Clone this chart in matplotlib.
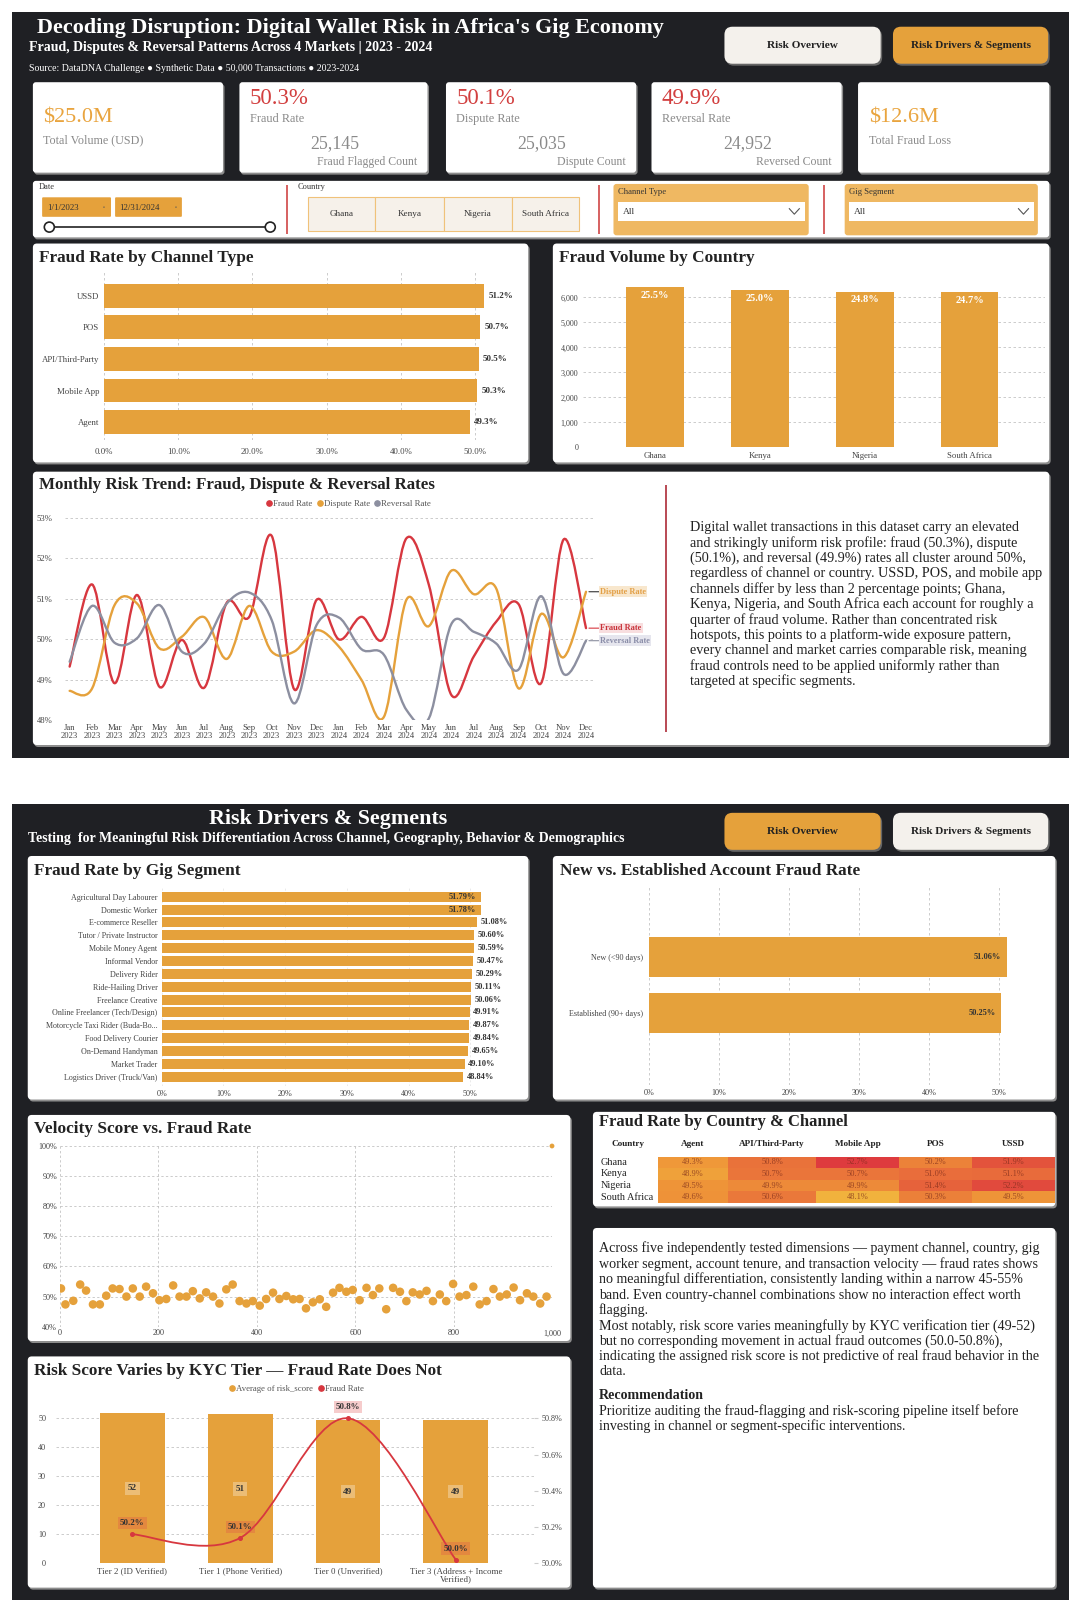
import numpy as np
import matplotlib
matplotlib.use("Agg")
import matplotlib.pyplot as plt
from matplotlib.patches import FancyBboxPatch, Rectangle, Circle, PathPatch
from matplotlib.path import Path
from matplotlib.lines import Line2D
from matplotlib.colors import LinearSegmentedColormap, Normalize

plt.rcParams['font.family'] = ['Liberation Serif', 'DejaVu Serif']

# ---------------- DATA ----------------
kpi_volume = "$25.0M"
kpi_fraud_loss = "$12.6M"
kpi_rates = ["50.3%", "50.1%", "49.9%"]
kpi_rate_names = ["Fraud Rate", "Dispute Rate", "Reversal Rate"]
kpi_counts = ["25,145", "25,035", "24,952"]
kpi_count_names = ["Fraud Flagged Count", "Dispute Count", "Reversed Count"]

channels = ["USSD", "POS", "API/Third-Party", "Mobile App", "Agent"]
channel_fraud_rate = [51.2, 50.7, 50.5, 50.3, 49.3]

countries = ["Ghana", "Kenya", "Nigeria", "South Africa"]
country_fraud_count = [6412, 6286, 6236, 6211]
country_fraud_share = [25.5, 25.0, 24.8, 24.7]

month_names = ["Jan", "Feb", "Mar", "Apr", "May", "Jun", "Jul", "Aug", "Sep", "Oct", "Nov", "Dec"]
years = [2023, 2024]
fraud_rate_monthly = [49.32, 51.35, 48.91, 51.09, 48.82, 49.98, 48.80, 50.90, 50.55, 52.55, 48.76, 50.97,
                      49.99, 50.55, 50.03, 52.49, 51.34, 48.62, 49.57, 50.43, 50.86, 48.91, 52.46, 50.27]
dispute_rate_monthly = [48.72, 48.78, 50.84, 50.88, 49.77, 50.06, 50.54, 49.51, 50.82, 49.69, 49.69, 50.22,
                        49.81, 48.99, 48.08, 50.97, 50.32, 51.69, 51.11, 51.25, 48.78, 50.62, 49.55, 51.17]
reversal_rate_monthly = [49.44, 50.82, 49.91, 50.02, 50.84, 49.69, 49.89, 50.88, 51.15, 50.47, 48.41, 50.35,
                         50.53, 49.75, 49.61, 48.25, 48.04, 50.37, 50.18, 49.89, 49.25, 51.06, 49.14, 49.96]

gig_segments = ["Agricultural Day Labourer", "Domestic Worker", "E-commerce Reseller",
                "Tutor / Private Instructor", "Mobile Money Agent", "Informal Vendor", "Delivery Rider",
                "Ride-Hailing Driver", "Freelance Creative", "Online Freelancer (Tech/Design)",
                "Motorcycle Taxi Rider (Buda-Bo...", "Food Delivery Courier", "On-Demand Handyman",
                "Market Trader", "Logistics Driver (Truck/Van)"]
gig_fraud_rate = [51.79, 51.78, 51.08, 50.60, 50.59, 50.47, 50.29, 50.11, 50.06, 49.91, 49.87, 49.84,
                  49.65, 49.10, 48.84]

tenure_groups = ["New (<90 days)", "Established (90+ days)"]
tenure_fraud_rate = [51.06, 50.25]

velocity_score = [2, 11, 27, 41, 53, 67, 81, 94, 107, 121, 135, 148, 162, 175, 189, 202, 216, 230, 243,
                  257, 270, 284, 297, 311, 324, 338, 351, 365, 379, 392, 406, 419, 433, 446, 460, 474,
                  487, 500, 514, 528, 541, 555, 568, 582, 595, 609, 623, 636, 649, 663, 677, 691, 704,
                  717, 731, 745, 758, 772, 785, 799, 812, 826, 840, 853, 867, 881, 894, 908, 922, 935,
                  949, 962, 976, 989]
velocity_fraud_rate = [52.7, 47.4, 48.6, 54.0, 52.0, 47.4, 47.4, 50.3, 52.7, 52.5, 50.0, 52.7, 50.0, 53.3,
                       51.1, 48.8, 49.2, 53.7, 50.0, 50.0, 51.8, 49.4, 51.4, 50.0, 47.7, 52.4, 54.0, 48.5,
                       47.7, 48.5, 47.0, 49.2, 51.3, 49.2, 50.2, 49.1, 49.2, 46.1, 48.1, 49.1, 46.6, 51.3,
                       52.9, 51.6, 52.2, 48.8, 52.9, 50.5, 52.7, 45.8, 52.9, 51.6, 48.5, 51.4, 50.7, 51.9,
                       48.5, 50.7, 48.5, 54.2, 50.0, 50.5, 53.3, 47.4, 48.5, 52.5, 50.0, 50.7, 53.0, 48.8,
                       51.1, 50.0, 47.7, 50.0]
velocity_outlier_score = [1000]
velocity_outlier_rate = [100.0]

heat_channels = ["Agent", "API/Third-Party", "Mobile App", "POS", "USSD"]
heat_values = [[49.3, 50.8, 52.7, 50.2, 51.9],
               [48.9, 50.7, 50.7, 51.0, 51.1],
               [49.5, 49.9, 49.9, 51.4, 52.2],
               [49.6, 50.6, 48.1, 50.3, 49.5]]

kyc_tiers = ["Tier 2 (ID Verified)", "Tier 1 (Phone Verified)", "Tier 0 (Unverified)",
             "Tier 3 (Address + Income\nVerified)"]
kyc_risk_score = [51.7, 51.4, 49.4, 49.4]
kyc_fraud_rate = [50.16, 50.14, 50.80, 50.02]

trend_lines = ["Digital wallet transactions in this dataset carry an elevated",
               "and strikingly uniform risk profile: fraud (50.3%), dispute",
               "(50.1%), and reversal (49.9%) rates all cluster around 50%,",
               "regardless of channel or country. USSD, POS, and mobile app",
               "channels differ by less than 2 percentage points; Ghana,",
               "Kenya, Nigeria, and South Africa each account for roughly a",
               "quarter of fraud volume. Rather than concentrated risk",
               "hotspots, this points to a platform-wide exposure pattern,",
               "every channel and market carries comparable risk, meaning",
               "fraud controls need to be applied uniformly rather than",
               "targeted at specific segments."]
summary_lines = ["Across five independently tested dimensions \u2014 payment channel, country, gig",
                 "worker segment, account tenure, and transaction velocity \u2014 fraud rates shows",
                 "no meaningful differentiation, consistently landing within a narrow 45-55%",
                 "band. Even country-channel combinations show no interaction effect worth",
                 "flagging.",
                 "Most notably, risk score varies meaningfully by KYC verification tier (49-52)",
                 "but no corresponding movement in actual fraud outcomes (50.0-50.8%),",
                 "indicating the assigned risk score is not predictive of real fraud behavior in the",
                 "data."]
recommendation_lines = ["Prioritize auditing the fraud-flagging and risk-scoring pipeline itself before",
                        "investing in channel or segment-specific interventions."]

# ---------------- STYLE ----------------
ORANGE = '#E5A13B'
RED = '#D7373F'
GRAY = '#8C8FA0'
DARK = '#1F2024'
LIGHT = '#F4F1EC'
TXT = '#222222'
KGRAY = '#8a8a8a'

S = 1080 / 1051
W, H = 1080, 1611
fig = plt.figure(figsize=(W / 100, H / 100), dpi=100)
fig.patch.set_facecolor('white')
bg = fig.add_axes([0, 0, 1, 1])
bg.set_xlim(0, W)
bg.set_ylim(H, 0)
bg.axis('off')


def rbox(x0, y0, x1, y1, fc, ec='none', lw=0, r=5, z=1, shadow=None):
    x0, y0, x1, y1 = x0 * S, y0 * S, x1 * S, y1 * S
    if shadow:
        bg.add_patch(FancyBboxPatch((x0 + 1.5, y0 + 2), x1 - x0, y1 - y0,
                                    boxstyle=f"round,pad=0,rounding_size={r}",
                                    fc=shadow, ec='none', zorder=z - 0.1))
    bg.add_patch(FancyBboxPatch((x0, y0), x1 - x0, y1 - y0,
                                boxstyle=f"round,pad=0,rounding_size={r}",
                                fc=fc, ec=ec, lw=lw, zorder=z))


def T(x, y, s, **kw):
    kw.setdefault('va', 'center')
    kw.setdefault('zorder', 5)
    bg.text(x * S, y * S, s, **kw)


def vline(x, y0, y1, color, lw=1.0):
    bg.plot([x * S, x * S], [y0 * S, y1 * S], color=color, lw=lw, zorder=5, solid_capstyle='butt')


def ax_at(x0, y0, x1, y1):
    a = fig.add_axes([x0 / W, 1 - y1 / H, (x1 - x0) / W, (y1 - y0) / H])
    a.set_facecolor('none')
    for sp in a.spines.values():
        sp.set_visible(False)
    a.tick_params(length=0, labelsize=6.3, colors='#444')
    a.set_axisbelow(True)
    return a


GRID = dict(ls=(0, (3, 3)), color='#c4c4c4', lw=0.6)


def smooth_path(xs, ys):
    pts = np.column_stack([xs, ys]).astype(float)
    n = len(pts)
    verts = [pts[0]]
    codes = [Path.MOVETO]
    for i in range(n - 1):
        p0 = pts[i - 1] if i > 0 else pts[i]
        p1, p2 = pts[i], pts[i + 1]
        p3 = pts[i + 2] if i + 2 < n else pts[i + 1]
        verts += [p1 + (p2 - p0) / 6, p2 - (p3 - p1) / 6, p2]
        codes += [Path.CURVE4] * 3
    return Path(verts, codes)


# ---------------- BACKGROUND PANELS ----------------
bg.add_patch(Rectangle((12 * S, 12 * S), 1028 * S, 726 * S, fc=DARK, ec='none', zorder=0))
bg.add_patch(Rectangle((12 * S, 782 * S), 1028 * S, 775 * S, fc=DARK, ec='none', zorder=0))

# header 1
T(36, 27, "Decoding Disruption: Digital Wallet Risk in Africa's Gig Economy", color='white',
  fontsize=15.9, fontweight='bold')
T(28, 46, "Fraud, Disputes & Reversal Patterns Across 4 Markets | 2023 - 2024", color='white',
  fontsize=10, fontweight='bold')
T(28, 67, "Source: DataDNA Challenge \u25CF Synthetic Data \u25CF 50,000 Transactions \u25CF 2023-2024",
  color='white', fontsize=7.1)
rbox(705, 26, 857, 62, LIGHT, r=8, shadow='#666')
T(781, 44, "Risk Overview", ha='center', fontsize=8.1, fontweight='bold', color=TXT)
rbox(869, 26, 1020, 62, ORANGE, r=8, shadow='#666')
T(944.5, 44, "Risk Drivers & Segments", ha='center', fontsize=8, fontweight='bold', color=TXT)

# KPI cards
card_x = [(32, 217), (233, 416), (434, 619), (634, 819), (835, 1021)]
for (x0, x1) in card_x:
    rbox(x0, 80, x1, 168, 'white', r=3, shadow='#8d8d8d')
T(42, 115, kpi_volume, color='#E9A43E', fontsize=16)
T(42, 137, "Total Volume (USD)", color=KGRAY, fontsize=8.7)
T(846, 115, kpi_fraud_loss, color='#E9A43E', fontsize=16)
T(846, 137, "Total Fraud Loss", color=KGRAY, fontsize=8.7)
for (x0, x1), rate, rname, cnt, cname in zip(card_x[1:4], kpi_rates, kpi_rate_names, kpi_counts,
                                              kpi_count_names):
    T(x0 + 10, 96, rate, color='#D23F3F', fontsize=16.5)
    T(x0 + 10, 116, rname, color=KGRAY, fontsize=8.8)
    T((x0 + x1) / 2 + 1, 140, cnt, color=KGRAY, fontsize=12.8, ha='center')
    T(x1 - 10, 158, cname, color=KGRAY, fontsize=8.5, ha='right')

# filter row
rbox(32, 176, 1021, 231, 'white', r=3, shadow='#8d8d8d')
T(38, 182, "Date", fontsize=6, color='#333')
rbox(41, 192, 108, 211, ORANGE, r=1)
rbox(112, 192, 177, 211, ORANGE, r=1)
T(46, 202, "1/1/2023", fontsize=6.4, color='#333')
T(116, 202, "12/31/2024", fontsize=6.4, color='#333')
T(101, 202, "\u25AB", fontsize=4, color='#555', ha='center')
T(171, 202, "\u25AB", fontsize=4, color='#555', ha='center')
bg.plot([48 * S, 263 * S], [221 * S, 221 * S], color='#222', lw=1.2, zorder=5)
for cx in (48, 263):
    bg.add_patch(Circle((cx * S, 221 * S), 5, fc='white', ec='#222', lw=1.2, zorder=6))
for sx in (279, 583, 802):
    vline(sx, 180, 228, '#D04545', lw=1.2)
T(290, 182, "Country", fontsize=6, color='#333')
for (x0, x1), name in zip([(300, 365), (365, 432), (432, 498), (498, 563)], countries):
    bg.add_patch(Rectangle((x0 * S, 192 * S), (x1 - x0) * S, 33 * S, fc='#F6F1EA', ec='#F0C27A',
                           lw=0.8, zorder=4))
    T((x0 + x1) / 2, 208.5, name, fontsize=6.6, color='#333', ha='center')
for (x0, x1), lab in zip([(597, 787), (822, 1010)], ["Channel Type", "Gig Segment"]):
    rbox(x0, 179, x1, 229, '#EFB862', r=3)
    T(x0 + 4, 187, lab, fontsize=6.2, color='#333')
    bg.add_patch(Rectangle(((x0 + 4) * S, 197 * S), (x1 - x0 - 8) * S, 18 * S, fc='white', ec='none', zorder=4))
    T(x0 + 9, 206, "All", fontsize=6.8, color='#333')
    cx = (x1 - 14) * S
    bg.plot([cx - 5, cx, cx + 5], [206 * S - 3, 206 * S + 2.5, 206 * S - 3], color='#555', lw=0.8, zorder=6)

# chart cards panel 1
rbox(32, 237, 514, 450, 'white', r=4, shadow='#8d8d8d')
rbox(538, 237, 1021, 450, 'white', r=4, shadow='#8d8d8d')
rbox(32, 459, 1021, 725, 'white', r=4, shadow='#8d8d8d')
T(38, 251, "Fraud Rate by Channel Type", fontsize=12.4, fontweight='bold', color=TXT)
T(544, 251, "Fraud Volume by Country", fontsize=12.4, fontweight='bold', color=TXT)
T(38, 472, "Monthly Risk Trend: Fraud, Dispute & Reversal Rates", fontsize=12.2, fontweight='bold', color=TXT)
vline(648, 472, 712, '#B94A54', lw=1.4)
for i, ln in enumerate(trend_lines):
    T(671, 513 + 15 * i, ln, fontsize=10.2, color=TXT)

# ---------------- Chart 1: Fraud Rate by Channel ----------------
ax1 = ax_at(104, 272, 104 + 55 * 7.42, 440)
yc = np.arange(len(channels))
ax1.barh(yc, channel_fraud_rate, height=0.76, color=ORANGE)
ax1.set_ylim(4.57, -0.76)
ax1.set_xlim(0, 55)
ax1.set_yticks(yc, channels)
ax1.set_xticks(np.arange(0, 51, 10), [f"{v:.1f}%" for v in np.arange(0, 51, 10)])
ax1.tick_params(axis='x', pad=6)
ax1.grid(axis='x', **GRID)
for yi, v in zip(yc, channel_fraud_rate):
    ax1.text(v + 0.6, yi, f"{v:.1f}%", va='center', ha='left', fontsize=6.5, fontweight='bold', color='#333')

# ---------------- Chart 2: Fraud Volume by Country ----------------
ax2 = ax_at(583, 285, 1045, 447.3)
xc = np.arange(len(countries))
ax2.bar(xc, country_fraud_count, width=0.55, color=ORANGE)
ax2.set_xlim(-0.687, 3.72)
ax2.set_ylim(0, 6500)
ax2.set_yticks(np.arange(0, 6001, 1000), [f"{v:,}" for v in range(0, 6001, 1000)])
ax2.set_xticks(xc, countries)
ax2.tick_params(axis='y', labelsize=5.8)
ax2.grid(axis='y', **GRID)
for xi, v, sh in zip(xc, country_fraud_count, country_fraud_share):
    ax2.annotate(f"{sh:.1f}%", (xi, v), xytext=(0, -6), textcoords='offset points', ha='center',
                 va='center', color='white', fontsize=7.5, fontweight='bold')

# ---------------- Chart 3: Monthly trend ----------------
ax3 = ax_at(64.7, 517.7, 595, 720)
mx = np.arange(len(fraud_rate_monthly))
ax3.set_xlim(-0.22, 23.4)
ax3.set_ylim(48, 53)
ax3.set_yticks(np.arange(48, 54, 1), [f"{v}%" for v in range(48, 54)])
ax3.set_xticks(mx, [f"{m}\n{y}" for y in years for m in month_names])
ax3.tick_params(axis='x', labelsize=6.2, pad=3)
ax3.tick_params(axis='y', labelsize=6.2, pad=9)
for t in ax3.get_xticklabels():
    t.set_linespacing(0.95)
ax3.grid(axis='y', **GRID)
series = [(fraud_rate_monthly, RED, "Fraud Rate", '#F8DEDF', '#C8323A'),
          (dispute_rate_monthly, ORANGE, "Dispute Rate", '#F8E7CD', '#E3A047'),
          (reversal_rate_monthly, GRAY, "Reversal Rate", '#E6E6EE', '#8A8DA8')]
for vals, col, lab, lbg, tcol in series:
    ax3.add_patch(PathPatch(smooth_path(mx, vals), fc='none', ec=col, lw=1.7, capstyle='round'))
    ax3.annotate(lab, xy=(23.13, vals[-1]), xytext=(8, 0), textcoords='offset points', va='center',
                 ha='left', fontsize=6, fontweight='bold', color=tcol, annotation_clip=False,
                 bbox=dict(boxstyle='square,pad=0.15', fc=lbg, ec='none'),
                 arrowprops=dict(arrowstyle='-', color='#333' if lab == 'Dispute Rate' else col, lw=0.8,
                                 shrinkA=0, shrinkB=0))
hdl = [Line2D([], [], marker='o', ls='', color=c, markersize=3.8) for c in (RED, ORANGE, GRAY)]
lg = fig.legend(hdl, ["Fraud Rate", "Dispute Rate", "Reversal Rate"], loc='center',
                bbox_to_anchor=(348 / W, 1 - 504 / H), ncol=3, frameon=False, fontsize=6.4,
                handletextpad=0.0, columnspacing=0.4, handlelength=0.9, borderpad=0, borderaxespad=0)
for t in lg.get_texts():
    t.set_color('#555')

# ---------------- PANEL 2 ----------------
T(319, 797, "Risk Drivers & Segments", color='white', fontsize=15.8, fontweight='bold', ha='center')
T(27, 816, "Testing  for Meaningful Risk Differentiation Across Channel, Geography, Behavior & Demographics",
  color='white', fontsize=10, fontweight='bold')
rbox(705, 791, 857, 827, ORANGE, r=8, shadow='#666')
T(781, 809, "Risk Overview", ha='center', fontsize=8.1, fontweight='bold', color=TXT)
rbox(869, 791, 1020, 827, LIGHT, r=8, shadow='#666')
T(944.5, 809, "Risk Drivers & Segments", ha='center', fontsize=8, fontweight='bold', color=TXT)

rbox(27, 833, 514, 1070, 'white', r=4, shadow='#8d8d8d')
rbox(538, 833, 1027, 1070, 'white', r=4, shadow='#8d8d8d')
rbox(27, 1085, 555, 1305, 'white', r=4, shadow='#8d8d8d')
rbox(577, 1082, 1027, 1174, 'white', r=4, shadow='#8d8d8d')
rbox(577, 1195, 1027, 1545, 'white', r=4, shadow='#8d8d8d')
rbox(27, 1320, 555, 1545, 'white', r=4, shadow='#8d8d8d')

T(33, 848, "Fraud Rate by Gig Segment", fontsize=12.4, fontweight='bold', color=TXT)
T(545, 848, "New vs. Established Account Fraud Rate", fontsize=12.4, fontweight='bold', color=TXT)
T(33, 1099, "Velocity Score vs. Fraud Rate", fontsize=12.4, fontweight='bold', color=TXT)
T(583, 1092, "Fraud Rate by Country & Channel", fontsize=12, fontweight='bold', color=TXT)
T(33, 1334, "Risk Score Varies by KYC Tier \u2014 Fraud Rate Does Not", fontsize=12.3, fontweight='bold',
  color=TXT)

# summary text
for i, ln in enumerate(summary_lines):
    T(583, 1215 + 15 * i, ln, fontsize=10.1, color=TXT)
T(583, 1358, "Recommendation", fontsize=10.1, color=TXT, fontweight='bold')
for i, ln in enumerate(recommendation_lines):
    T(583, 1373 + 15 * i, ln, fontsize=10.1, color=TXT)

# ---------------- Chart 4: Gig segment ----------------
ax4 = ax_at(161.7, 888, 161.7 + 57 * 6.17, 1086)
gy = np.arange(len(gig_segments))
ax4.barh(gy, gig_fraud_rate, height=0.78, color=ORANGE)
ax4.set_ylim(14.72, -0.68)
ax4.set_xlim(0, 57)
ax4.set_yticks(gy, gig_segments)
ax4.tick_params(axis='y', labelsize=5.8, pad=3)
ax4.set_xticks(np.arange(0, 51, 10), [f"{v}%" for v in range(0, 51, 10)])
ax4.tick_params(axis='x', labelsize=5.9, pad=3)
ax4.grid(axis='x', ls=(0, (3, 3)), color='#e2e2e2', lw=0.5)
for yi, v in zip(gy, gig_fraud_rate):
    if v >= 51.5:
        ax4.text(v - 0.9, yi, f"{v:.2f}%", va='center', ha='right', fontsize=6, fontweight='bold',
                 color='#333')
    else:
        ax4.text(v + 0.6, yi, f"{v:.2f}%", va='center', ha='left', fontsize=6, fontweight='bold',
                 color='#333')

# ---------------- Chart 5: Tenure ----------------
ax5 = ax_at(649, 885, 649 + 55 * 7.006, 1085)
ty = np.arange(len(tenure_groups))
ax5.barh(ty, tenure_fraud_rate, height=0.71, color=ORANGE)
ax5.set_ylim(2.286, -1.286)
ax5.set_xlim(0, 55)
ax5.set_yticks(ty, tenure_groups)
ax5.tick_params(axis='y', labelsize=5.9, pad=4)
ax5.set_xticks(np.arange(0, 51, 10), [f"{v}%" for v in range(0, 51, 10)])
ax5.tick_params(axis='x', labelsize=5.9, pad=3)
ax5.grid(axis='x', **GRID)
for yi, v in zip(ty, tenure_fraud_rate):
    ax5.text(v - 0.8, yi, f"{v:.2f}%", va='center', ha='right', fontsize=6, fontweight='bold', color='#333')

# ---------------- Chart 6: Velocity scatter ----------------
ax6 = ax_at(60, 1146, 552, 1326.7)
ax6.scatter(velocity_score, velocity_fraud_rate, s=38, color=ORANGE, edgecolors='none', zorder=3)
ax6.scatter(velocity_outlier_score, velocity_outlier_rate, s=12, color=ORANGE, edgecolors='none',
            zorder=3, clip_on=False)
ax6.set_xlim(0, 1000)
ax6.set_ylim(40, 100)
ax6.set_xticks(np.arange(0, 1001, 200), [f"{v:,}" for v in range(0, 1001, 200)])
ax6.set_yticks(np.arange(40, 101, 10), [f"{v}%" for v in range(40, 101, 10)])
ax6.tick_params(labelsize=5.9, pad=2)
ax6.grid(True, ls=(0, (3, 3)), color='#bdbdbd', lw=0.55)

# ---------------- Chart 7: Heatmap ----------------
col_edges_px = [657.7, 728.3, 816.0, 899.3, 971.7, 1055.0]
ax7 = ax_at(657.7, 1156.5, 1055.0, 1203.1)
cmap = LinearSegmentedColormap.from_list('hm', ['#F1B23D', '#EE9138', '#E8693B', '#DE3B3E'])
hv = np.array(heat_values)
ax7.pcolormesh(col_edges_px, np.arange(hv.shape[0] + 1), hv, cmap=cmap,
               norm=Normalize(vmin=hv.min(), vmax=hv.max()), shading='flat')
ax7.set_xlim(col_edges_px[0], col_edges_px[-1])
ax7.set_ylim(hv.shape[0], 0)
ax7.set_xticks([])
ax7.set_yticks([])
for r in range(hv.shape[0]):
    for c in range(hv.shape[1]):
        ax7.text((col_edges_px[c] + col_edges_px[c + 1]) / 2, r + 0.5, f"{hv[r, c]:.1f}%", ha='center',
                 va='center', fontsize=6, color='#7a2a1a', alpha=0.7)
for c, name in enumerate(heat_channels):
    bg.text((col_edges_px[c] + col_edges_px[c + 1]) / 2, 1144, name, ha='center', va='center',
            fontsize=6.6, fontweight='bold', color=TXT, zorder=5)
bg.text(628, 1144, "Country", ha='center', va='center', fontsize=6.6, fontweight='bold', color=TXT, zorder=5)
for r, name in enumerate(countries):
    bg.text(601, 1156.5 + (r + 0.5) * (1203.1 - 1156.5) / 4, name, ha='left', va='center', fontsize=7.4,
            color=TXT, zorder=5)

# ---------------- Chart 8: KYC ----------------
ax8 = ax_at(55.8, 1403.8, 534.5, 1563.3)
kx = np.arange(len(kyc_tiers))
ax8.bar(kx, kyc_risk_score, width=0.6, color=ORANGE, zorder=2)
ax8.set_xlim(-0.71, 3.73)
ax8.set_ylim(0, 55)
ax8.set_yticks(np.arange(0, 51, 10))
ax8.set_xticks(kx, kyc_tiers)
ax8.tick_params(axis='x', labelsize=6.4, pad=3)
ax8.tick_params(axis='y', labelsize=5.9, pad=7)
for t in ax8.get_xticklabels():
    t.set_linespacing(1.0)
    t.set_va('top')
ax8.grid(axis='y', **GRID)
for xi, v in zip(kx, kyc_risk_score):
    ax8.text(xi, v / 2, f"{v:.0f}", ha='center', va='center', fontsize=6.6, fontweight='bold', color='#333',
             bbox=dict(boxstyle='square,pad=0.3', fc='white', ec='none', alpha=0.3), zorder=4)
ax8r = ax8.twinx()
for sp in ax8r.spines.values():
    sp.set_visible(False)
ax8r.set_ylim(50.0, 50.88)
ax8r.set_yticks(np.arange(50.0, 50.81, 0.2), [f"{v:.1f}%" for v in np.arange(50.0, 50.81, 0.2)])
ax8r.tick_params(axis='y', labelsize=5.9, length=3, color='#cccccc', colors='#444', pad=2)
ax8r.add_patch(PathPatch(smooth_path(kx, kyc_fraud_rate), fc='none', ec=RED, lw=1.3, zorder=5))
ax8r.plot(kx, kyc_fraud_rate, 'o', color=RED, markersize=2.6, zorder=6)
for xi, v in zip(kx, kyc_fraud_rate):
    ax8r.annotate(f"{v:.1f}%", (xi, v), xytext=(0, 8), textcoords='offset points', ha='center',
                  va='center', fontsize=6.4, fontweight='bold', color='#333', zorder=7,
                  bbox=dict(boxstyle='square,pad=0.25', fc='#E04A4A', ec='none', alpha=0.28))
hdl2 = [Line2D([], [], marker='o', ls='', color=c, markersize=3.8) for c in (ORANGE, RED)]
lg2 = fig.legend(hdl2, ["Average of risk_score", "Fraud Rate"], loc='center',
                 bbox_to_anchor=(296 / W, 1 - 1389 / H), ncol=2, frameon=False, fontsize=6.3,
                 handletextpad=0.0, columnspacing=0.4, handlelength=0.9, borderpad=0, borderaxespad=0)
for t in lg2.get_texts():
    t.set_color('#555')

fig.savefig("out.png", dpi=100)
